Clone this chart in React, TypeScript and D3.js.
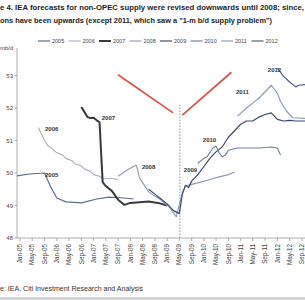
import React from 'react';
import * as d3 from 'd3';

const W = 305;
const H = 300;

const titleLines = [
  'e 4. IEA forecasts for non-OPEC supply were revised downwards until 2008; since,',
  'ons have been upwards (except 2011, which saw a "1-m b/d supply problem")',
];
const sourceText = 'e: IEA, Citi Investment Research and Analysis';
const unitLabel = 'mb/d';

const yTicks = [48, 49, 50, 51, 52, 53];
const xTickLabels = [
  'Jan-05', 'May-05', 'Sep-05', 'Jan-06', 'May-06', 'Sep-06', 'Jan-07', 'May-07',
  'Sep-07', 'Jan-08', 'May-08', 'Sep-08', 'Jan-09', 'May-09', 'Sep-09', 'Jan-10',
  'May-10', 'Sep-10', 'Jan-11', 'May-11', 'Sep-11', 'Jan-12', 'May-12', 'Sep-12',
];

const seriesNames = ['2005', '2006', '2007', '2008', '2009', '2010', '2011', '2012'];

const s2005: [string, number][] = [
  ['2004-12', 49.91], ['2005-04', 49.97], ['2005-09', 50.0], ['2005-11', 49.57],
  ['2006-01', 49.23], ['2006-04', 49.11], ['2006-09', 49.08], ['2007-02', 49.2],
  ['2007-06', 49.26], ['2007-11', 49.23], ['2008-02', 49.2],
];
const s2006: [string, number][] = [
  ['2005-07', 51.4], ['2005-08', 51.2], ['2005-09', 51.0], ['2005-10', 50.85], ['2005-11', 50.78],
  ['2006-01', 50.62], ['2006-03', 50.55], ['2006-04', 50.45], ['2006-06', 50.38], ['2006-07', 50.28],
  ['2006-09', 50.22], ['2006-10', 50.12], ['2006-12', 50.05], ['2007-01', 49.95], ['2007-03', 49.9],
  ['2007-04', 49.84], ['2007-07', 49.83], ['2007-09', 49.8],
];
const s2007: [string, number][] = [
  ['2006-09', 52.03], ['2006-10', 51.88], ['2006-11', 51.72], ['2006-12', 51.69],
  ['2007-01', 51.7], ['2007-02', 51.62], ['2007-03', 51.56], ['2007-04', 49.72],
  ['2007-05', 49.6], ['2007-07', 49.45], ['2007-09', 49.18], ['2007-11', 49.02],
  ['2008-01', 49.08], ['2008-04', 49.1], ['2008-07', 49.12], ['2008-10', 49.08], ['2009-01', 49.0],
];
const s2008: [string, number][] = [
  ['2007-09', 49.9], ['2007-12', 50.09], ['2008-02', 50.2], ['2008-03', 50.24],
  ['2008-04', 49.85], ['2008-07', 49.42], ['2008-11', 49.17], ['2009-02', 48.92],
  ['2009-04', 48.65], ['2009-06', 49.4], ['2009-07', 49.6], ['2009-09', 49.65],
  ['2009-12', 49.72], ['2010-03', 49.8], ['2010-06', 49.88], ['2010-09', 49.95], ['2010-11', 50.03],
];
const s2009: [string, number][] = [
  ['2008-07', 49.5], ['2008-09', 49.35], ['2008-11', 49.2], ['2009-01', 49.05],
  ['2009-03', 48.85], ['2009-05', 48.75], ['2009-06', 49.35], ['2009-07', 49.62],
  ['2009-08', 49.55], ['2009-09', 49.75], ['2009-11', 49.95], ['2010-01', 50.2],
  ['2010-03', 50.45], ['2010-05', 50.65], ['2010-07', 50.8], ['2010-09', 51.1],
  ['2010-11', 51.3], ['2011-01', 51.5], ['2011-03', 51.6], ['2011-05', 51.6],
  ['2011-07', 51.72], ['2011-09', 51.8], ['2011-11', 51.85], ['2012-01', 51.65],
  ['2012-03', 51.6], ['2012-05', 51.62], ['2012-07', 51.6], ['2012-10', 51.6],
];
const s2010: [string, number][] = [
  ['2009-11', 50.3], ['2010-01', 50.45], ['2010-02', 50.5], ['2010-04', 50.77],
  ['2010-05', 50.83], ['2010-06', 50.62], ['2010-07', 50.5], ['2010-08', 50.55],
  ['2010-09', 50.7], ['2010-12', 50.77], ['2011-03', 50.77], ['2011-07', 50.77],
  ['2011-11', 50.8], ['2012-01', 50.77], ['2012-02', 50.55],
];
const s2011: [string, number][] = [
  ['2010-12', 51.75], ['2011-03', 52.0], ['2011-05', 52.15], ['2011-07', 52.3],
  ['2011-09', 52.5], ['2011-11', 52.7], ['2012-01', 52.45], ['2012-02', 52.2],
  ['2012-04', 51.9], ['2012-06', 51.7], ['2012-10', 51.68],
];
const s2012: [string, number][] = [
  ['2012-01', 53.23], ['2012-03', 52.98], ['2012-05', 52.8], ['2012-07', 52.65],
  ['2012-08', 52.7], ['2012-10', 52.72],
];

const seriesData = [s2005, s2006, s2007, s2008, s2009, s2010, s2011, s2012];
const seriesColors = ['#5b6c90', '#a7aebd', '#3a3a3a', '#8e9ab2', '#3b4a72', '#6f82a6', '#8d9cbb', '#4f5f84'];
const seriesWidths = [1.2, 1.1, 2, 1.1, 1.2, 1.2, 1.2, 1.2];

// label anchors (date, value) for in-chart year labels
const labelAnchors: [string, number][] = [
  ['2005-09-05', 49.88], ['2005-09-05', 51.29], ['2007-03-23', 51.63], ['2008-04-25', 50.12],
  ['2009-06-15', 50.03], ['2009-12-21', 50.95], ['2010-11-15', 52.43], ['2011-09-28', 53.11],
];

const redLeft: [string, number][] = [['2007-09', 53.02], ['2009-03', 51.85]];
const redRight: [string, number][] = [['2009-06', 51.78], ['2010-10', 53.1]];
const dividerDate = '2009-05-07';
const dividerRange = [48, 52.1];

const parseM = d3.timeParse('%Y-%m');
const parseD = d3.timeParse('%Y-%m-%d');
const parseTick = d3.timeParse('%b-%y');

export default function App() {
  const x = d3.scaleTime()
    .domain([new Date(2004, 11, 1), new Date(2012, 9, 1)])
    .range([17, 305]);
  const y = d3.scaleLinear().domain([48, 54]).range([238, 43]);

  const line = d3.line<[string, number]>()
    .x(d => x(parseM(d[0]) as Date))
    .y(d => y(d[1]));

  const font = 'Liberation Sans, Arial, sans-serif';
  const divX = x(parseD(dividerDate) as Date);

  return (
    <svg width={W} height={H} style={{ position: 'absolute', left: 0, top: 0, background: '#fff' }}
      fontFamily={font}>
      <rect x={0} y={0} width={W} height={H} fill="#fff" />
      {titleLines.map((t, i) => (
        <text key={i} x={0} y={10 + i * 12.5} fontSize={7} fontWeight="bold" fill="#222"
          textLength={i === 0 ? 304 : 272} lengthAdjust="spacingAndGlyphs">{t}</text>
      ))}
      {/* legend */}
      {seriesNames.map((n, i) => {
        const lx = 38 + i * 30.5;
        return (
          <g key={n}>
            <line x1={lx} x2={lx + 12} y1={41} y2={41} stroke={seriesColors[i]} strokeWidth={seriesWidths[i]} />
            <text x={lx + 14} y={43} fontSize={5.5} fill="#444">{n}</text>
          </g>
        );
      })}
      <text x={0} y={50} fontSize={6} fill="#444">{unitLabel}</text>
      {/* axes */}
      <line x1={17} x2={17} y1={48} y2={238} stroke="#999" strokeWidth={0.8} />
      <line x1={17} x2={305} y1={238} y2={238} stroke="#999" strokeWidth={0.8} />
      {yTicks.map(t => (
        <g key={t}>
          <line x1={14.5} x2={17} y1={y(t)} y2={y(t)} stroke="#999" strokeWidth={0.8} />
          <text x={13} y={y(t)} dy="0.35em" fontSize={6} textAnchor="end" fill="#444">{t}</text>
        </g>
      ))}
      {xTickLabels.map(l => {
        const tx = x(parseTick(l) as Date);
        return (
          <g key={l}>
            <line x1={tx} x2={tx} y1={238} y2={241} stroke="#999" strokeWidth={0.8} />
            <text transform={`translate(${tx},244) rotate(-90)`} dy="0.35em" fontSize={6.3}
              textAnchor="end" fill="#444">{l}</text>
          </g>
        );
      })}
      {/* divider */}
      <line x1={divX} x2={divX} y1={y(dividerRange[0])} y2={y(dividerRange[1])}
        stroke="#777" strokeWidth={0.8} strokeDasharray="1.5,1.5" />
      {/* series */}
      {seriesData.map((s, i) => (
        <path key={i} d={line(s) || ''} fill="none" stroke={seriesColors[i]}
          strokeWidth={seriesWidths[i]} strokeLinejoin="round" />
      ))}
      {/* red arrows */}
      {[redLeft, redRight].map((r, i) => (
        <path key={i} d={line(r) || ''} stroke="#d9534f" strokeWidth={1.8} fill="none" />
      ))}
      {/* year labels */}
      {seriesNames.map((n, i) => (
        <text key={n} x={x(parseD(labelAnchors[i][0]) as Date)} y={y(labelAnchors[i][1])}
          fontSize={6} fontWeight="bold" fill="#333">{n}</text>
      ))}
      <text x={0} y={291} fontSize={6.3} fill="#333" textLength={143} lengthAdjust="spacingAndGlyphs">{sourceText}</text>
      <rect x={0} y={297} width={W} height={3} fill="#d4d4d4" />
    </svg>
  );
}
